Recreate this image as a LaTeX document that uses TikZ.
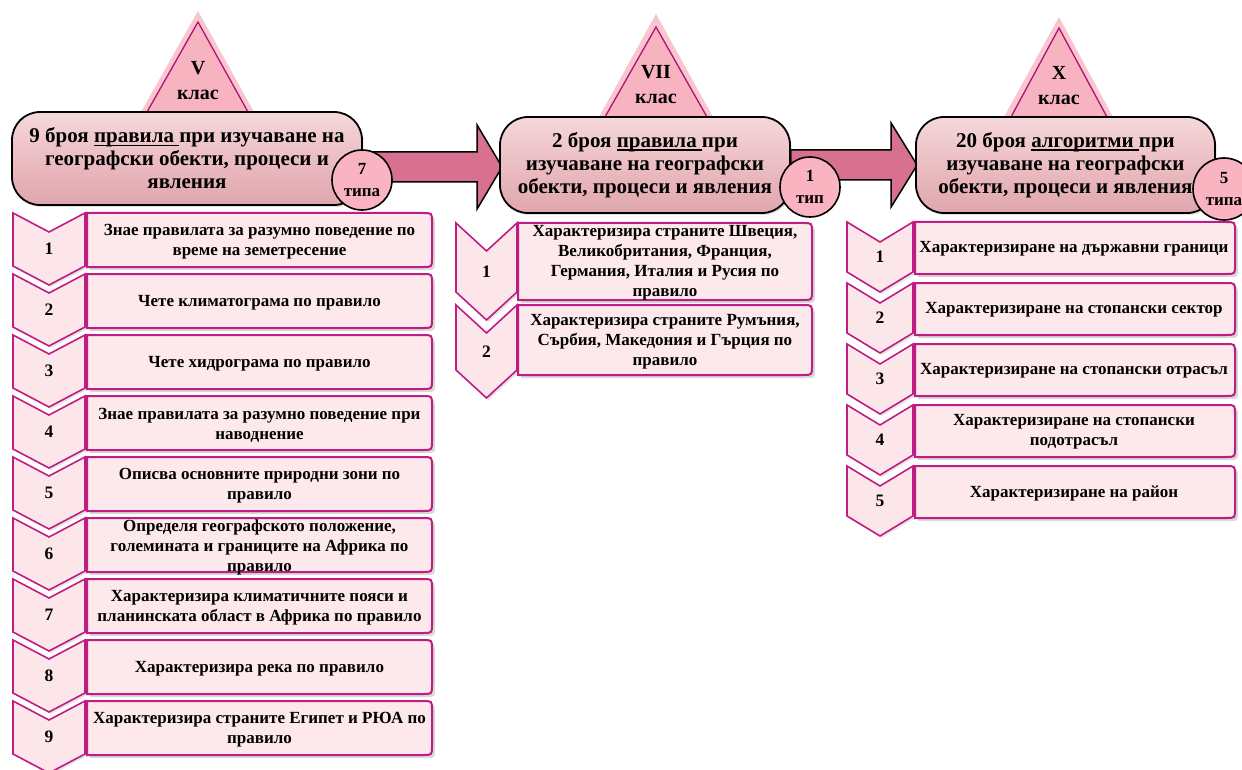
\documentclass[tikz,border=0pt]{standalone}
\usepackage{fontspec}
\setmainfont{Liberation Serif}
\usetikzlibrary{calc,shadows,backgrounds}

\definecolor{magline}{HTML}{BE1E83}
\definecolor{itemfill}{HTML}{FDE8EC}
\definecolor{chevfill}{HTML}{FDE6EA}
\definecolor{trifill}{HTML}{F8B3C0}
\definecolor{trihalo}{HTML}{F9C6CE}
\definecolor{triline}{HTML}{B0107A}
\definecolor{badgefill}{HTML}{F9B3C1}
\definecolor{arrowfill}{HTML}{D8708F}
\definecolor{hdrtop}{HTML}{F5D8DB}
\definecolor{hdrmid}{HTML}{EBBDC2}
\definecolor{hdrbot}{HTML}{DFA6AD}

% underline at a fixed offset below the baseline
\newcommand\hdrul[1]{\setbox0\hbox{#1}\rlap{\rule[-3.5pt]{\wd0}{1.5pt}}\box0}

\tikzset{
  hdr/.style={draw=black, line width=1.8pt, rounded corners=28pt,
    top color=hdrtop, bottom color=hdrbot, middle color=hdrmid,
    align=center, inner sep=0pt, font=\fontsize{21}{23}\selectfont\bfseries,
    drop shadow={shadow xshift=1.5pt, shadow yshift=-2pt, opacity=.25}},
  badge/.style={circle, draw=black, line width=1.6pt, fill=badgefill,
    inner sep=0pt, align=center, font=\fontsize{17}{22}\selectfont\bfseries},
  tritext/.style={align=center, inner sep=0pt, font=\fontsize{20}{25}\selectfont\bfseries},
  halo/.style={fill=trihalo},
  triinner/.style={fill=trifill, draw=triline, line width=1.3pt, line join=miter},
  bigarrow/.style={fill=arrowfill, draw=black, line width=1.5pt, line join=miter},
  chev/.style={fill=chevfill, draw=magline, line width=1.6pt, line join=miter,
    drop shadow={shadow xshift=2pt, shadow yshift=-2pt, opacity=.2}},
  itemshape/.style={fill=itemfill, draw=magline, line width=2pt,
    drop shadow={shadow xshift=3pt, shadow yshift=-3pt, opacity=.3}},
  itemtext/.style={align=center, inner sep=0pt, font=\fontsize{17}{20}\selectfont\bfseries},
  numtext/.style={inner sep=0pt, font=\fontsize{17.5}{18}\selectfont\bfseries},
}

% box with square left corners and rounded right corners
\newcommand\sidebox[4]{% x1, y1, x2, y2
  \path[itemshape] (#1,#2) -- (#3-9,#2) .. controls (#3,#2) .. (#3,#2+9)
    -- (#3,#4-9) .. controls (#3,#4) .. (#3-9,#4) -- (#1,#4) -- cycle;}

% downward chevron: left x, top y, width, side length, notch depth
\newcommand\chevron[5]{%
  \path[chev] (#1,#2) -- (#1+#3/2,#2+#5) -- (#1+#3,#2) -- (#1+#3,#2+#4)
    -- (#1+#3/2,#2+#4+#5) -- (#1,#2+#4) -- cycle;}

% left column row: name, top, number, text
\newcommand\rowA[4]{%
  \chevron{13}{#2}{72}{53}{19}
  \node[numtext] (#1n) at (49,#2+36) {#3};
  \sidebox{87}{#2}{432}{#2+54}
  \node[itemtext] (#1) at (259.5,#2+29) {#4};}

% middle column row: name, top, box height, chevron side, number, text
\newcommand\rowB[6]{%
  \chevron{456}{#2}{61}{#4}{28}
  \node[numtext] (#1n) at (486.5,#2+#4/2+14) {#5};
  \sidebox{518}{#2}{812}{#2+#3}
  \node[itemtext] (#1) at (665,#2+#3/2+1.5) {#6};}

% right column row: name, top, number, text
\newcommand\rowC[4]{%
  \chevron{847}{#2}{66}{50}{20}
  \node[numtext] (#1n) at (880,#2+35) {#3};
  \sidebox{915}{#2}{1235}{#2+52}
  \node[itemtext] (#1) at (1074,#2+27) {#4};}

\begin{document}
\begin{tikzpicture}[x=1pt,y=-1pt]
\useasboundingbox (0,0) rectangle (1242,770);
\begin{pgfonlayer}{background}
  \fill[white] (0,0) rectangle (1242,770);
\end{pgfonlayer}

% grade triangles
\fill[halo] (198,11) -- (254,112) -- (141,112) -- cycle;
\path[triinner] (198,22) -- (248,112) -- (147,112) -- cycle;
\fill[halo] (656,14) -- (713,117) -- (599,117) -- cycle;
\path[triinner] (656,27) -- (707,117) -- (605,117) -- cycle;
\fill[halo] (1059,17) -- (1113,117) -- (1004,117) -- cycle;
\path[triinner] (1059,28) -- (1107,117) -- (1011,117) -- cycle;

% header boxes
\node[hdr, minimum width=350pt, minimum height=93pt] (h1) at (187,158.5)
  {9 броя \hdrul{правила\ }при изучаване на\\географски обекти, процеси и\\явления};
\node[hdr, minimum width=290pt, minimum height=96pt] (h2) at (645,165)
  {2 броя \hdrul{правила\ }при\\изучаване на географски\\обекти, процеси и явления};
\node[hdr, minimum width=299pt, minimum height=96pt] (h3) at (1065.5,165)
  {20 броя \hdrul{алгоритми\ }при\\изучаване на географски\\обекти, процеси и явления};

% block arrows between the headers, kept behind them
\coordinate (a1e) at ($(h2.west)+(3,2)$);
\coordinate (a1s) at (h1.east |- a1e);
\coordinate (a2e) at ($(h3.west)+(2,0)$);
\coordinate (a2s) at (h2.east |- a2e);
\begin{pgfonlayer}{background}
\path[bigarrow] ($(a1s)+(0,-15)$) -- ($(a1e)+(-25,-15)$) -- ($(a1e)+(-25,-42)$)
  -- (a1e) -- ($(a1e)+(-25,42)$) -- ($(a1e)+(-25,15)$) -- ($(a1s)+(0,15)$) -- cycle;
\path[bigarrow] ($(a2s)+(0,-15)$) -- ($(a2e)+(-26,-15)$) -- ($(a2e)+(-26,-42)$)
  -- (a2e) -- ($(a2e)+(-26,42)$) -- ($(a2e)+(-26,15)$) -- ($(a2s)+(0,15)$) -- cycle;
\end{pgfonlayer}

% count badges
\node[badge, minimum size=60pt] (c1) at (362,180) {7\\типа};
\node[badge, minimum size=60pt] (c2) at (810,187) {1\\тип};
\node[badge, minimum size=62pt] (c3) at (1224,189) {5\\типа};

% grade labels
\node[tritext] (g1) at (198,80.5) {V\\клас};
\node[tritext] (g2) at (656,84.5) {VII\\клас};
\node[tritext] (g3) at (1059,85.5) {X\\клас};

% V grade rules
\rowA{a1}{213}{1}{Знае правилата за разумно поведение по\\време на земетресение}
\rowA{a2}{274}{2}{Чете климатограма по правило}
\rowA{a3}{335}{3}{Чете хидрограма по правило}
\rowA{a4}{396}{4}{Знае правилата за разумно поведение при\\наводнение}
\rowA{a5}{457}{5}{Описва основните природни зони по\\правило}
\rowA{a6}{518}{6}{Определя географското положение,\\големината и границите на Африка по\\правило}
\rowA{a7}{579}{7}{Характеризира климатичните пояси и\\планинската област в Африка по правило}
\rowA{a8}{640}{8}{Характеризира река по правило}
\rowA{a9}{701}{9}{Характеризира страните Египет и РЮА по\\правило}

% VII grade rules
\rowB{b1}{223}{77}{69}{1}{Характеризира страните Швеция,\\Великобритания, Франция,\\Германия, Италия и Русия по\\правило}
\rowB{b2}{305}{70}{65}{2}{Характеризира страните Румъния,\\Сърбия, Македония и Гърция по\\правило}

% X grade algorithms
\rowC{x1}{222}{1}{Характеризиране на държавни граници}
\rowC{x2}{283}{2}{Характеризиране на стопански сектор}
\rowC{x3}{344}{3}{Характеризиране на стопански отрасъл}
\rowC{x4}{405}{4}{Характеризиране на стопански\\подотрасъл}
\rowC{x5}{466}{5}{Характеризиране на район}
\end{tikzpicture}
\end{document}
